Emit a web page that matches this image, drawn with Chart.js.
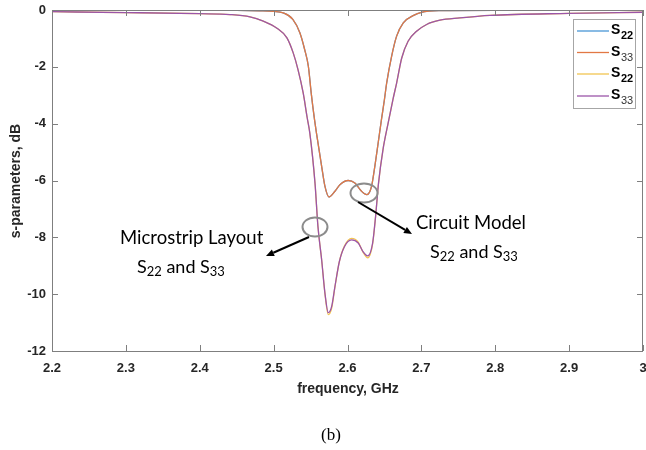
<!DOCTYPE html>
<html><head><meta charset="utf-8">
<script src="https://cdn.jsdelivr.net/npm/chart.js@4/dist/chart.umd.min.js"></script>
<style>html,body{margin:0;padding:0;background:#fff}#wrap{width:646px;height:450px;position:relative}</style>
</head><body><div id="wrap"><canvas id="c" width="646" height="450"></canvas></div>
<script>
// ---- data ----
const xTicks = [2.2, 2.3, 2.4, 2.5, 2.6, 2.7, 2.8, 2.9, 3.0];
const yTicks = [0, -2, -4, -6, -8, -10, -12];

const freqCircuit = [2.2, 2.3, 2.4, 2.45, 2.48, 2.5, 2.513, 2.526, 2.5355, 2.542, 2.547, 2.551, 2.555, 2.558, 2.565, 2.5695, 2.575, 2.583, 2.5897, 2.601, 2.61, 2.619, 2.626, 2.6325, 2.637, 2.6415, 2.646, 2.65, 2.653, 2.6597, 2.6665, 2.6755, 2.6895, 2.7, 2.7237, 2.8, 3.0];
const s22Circuit = [-0.01, -0.01, -0.01, -0.015, -0.03, -0.05, -0.10, -0.33, -0.80, -1.39, -1.98, -2.95, -3.79, -4.33, -5.50, -6.21, -6.58, -6.38, -6.15, -6.00, -6.09, -6.38, -6.50, -6.21, -5.50, -4.68, -3.85, -3.15, -2.57, -1.63, -0.92, -0.45, -0.19, -0.08, -0.02, -0.01, -0.01];
const s33Circuit = [-0.01, -0.01, -0.01, -0.015, -0.03, -0.05, -0.10, -0.33, -0.80, -1.39, -1.98, -2.95, -3.79, -4.33, -5.50, -6.21, -6.58, -6.38, -6.15, -6.00, -6.09, -6.38, -6.50, -6.21, -5.50, -4.68, -3.85, -3.15, -2.57, -1.63, -0.92, -0.45, -0.19, -0.08, -0.02, -0.01, -0.01];

const freqLayout = [2.2, 2.3, 2.4, 2.441, 2.468, 2.486, 2.504, 2.518, 2.5265, 2.533, 2.54, 2.5455, 2.549, 2.556, 2.56, 2.565, 2.5695, 2.574, 2.5785, 2.583, 2.589, 2.596, 2.6055, 2.6145, 2.621, 2.6275, 2.634, 2.638, 2.642, 2.648, 2.655, 2.6615, 2.6665, 2.6734, 2.682, 2.6935, 2.7071, 2.725, 2.752, 2.793, 2.9, 3.0];
const s22Layout = [-0.06, -0.09, -0.13, -0.16, -0.24, -0.39, -0.63, -0.98, -1.51, -2.10, -2.92, -3.80, -4.33, -6.09, -7.62, -8.79, -9.99, -10.72, -10.50, -9.75, -8.85, -8.30, -8.04, -8.17, -8.52, -8.72, -8.24, -7.27, -6.09, -4.92, -3.98, -3.15, -2.57, -1.69, -1.10, -0.75, -0.51, -0.36, -0.28, -0.19, -0.12, -0.08];
const s33Layout = [-0.06, -0.09, -0.13, -0.16, -0.24, -0.39, -0.63, -0.98, -1.51, -2.10, -2.92, -3.80, -4.33, -6.09, -7.62, -8.79, -9.97, -10.65, -10.44, -9.73, -8.85, -8.32, -8.09, -8.20, -8.50, -8.65, -8.20, -7.27, -6.09, -4.92, -3.98, -3.15, -2.57, -1.69, -1.10, -0.75, -0.51, -0.36, -0.28, -0.19, -0.12, -0.08];

const seriesLabels = [['S','22'], ['S','33'], ['S','22'], ['S','33']];
const colors = ['#4a96d6', '#e27844', '#f2c451', '#9b55a9'];

const pts = (fx, fy) => fx.map((f, i) => ({x: f, y: fy[i]}));

const AX = '#7f7f7f', TXT = '#262626';

const framePlugin = {
  id: 'frame',
  afterDatasetsDraw(chart) {
    const {ctx, chartArea: a, scales: {x, y}} = chart;
    ctx.save();
    ctx.strokeStyle = AX; ctx.lineWidth = 1;
    ctx.beginPath();
    ctx.rect(Math.round(a.left) + 0.5, Math.round(a.top) + 0.5, Math.round(a.right - a.left) - 1, Math.round(a.bottom - a.top));
    ctx.stroke();
    ctx.beginPath();
    xTicks.forEach(t => {
      const px = Math.round(x.getPixelForValue(t)) + 0.5;
      ctx.moveTo(px, a.bottom); ctx.lineTo(px, a.bottom - 6);
      ctx.moveTo(px, a.top); ctx.lineTo(px, a.top + 6);
    });
    yTicks.forEach(t => {
      const py = Math.round(y.getPixelForValue(t)) + 0.5;
      ctx.moveTo(a.left, py); ctx.lineTo(a.left + 6, py);
      ctx.moveTo(a.right, py); ctx.lineTo(a.right - 6, py);
    });
    ctx.stroke();
    ctx.restore();
  },
  afterDraw(chart) {
    const {ctx} = chart;
    ctx.save();
    // axis titles
    ctx.fillStyle = TXT;
    ctx.font = 'bold 14px "Liberation Sans", Arial, sans-serif';
    ctx.textAlign = 'center'; ctx.textBaseline = 'middle';
    ctx.fillText('frequency, GHz', 348, 389);
    ctx.save();
    ctx.translate(16, 181); ctx.rotate(-Math.PI / 2);
    ctx.fillText('s-parameters, dB', 0, 0);
    ctx.restore();
    // (b)
    ctx.fillStyle = '#000';
    ctx.font = '17px "Liberation Serif", "Times New Roman", serif';
    ctx.fillText('(b)', 331, 436);

    // legend
    const lx = 573, ly = 19, lw = 62, lh = 89;
    ctx.fillStyle = '#fff'; ctx.fillRect(lx, ly, lw, lh);
    ctx.strokeStyle = '#a6a6a6'; ctx.lineWidth = 1;
    ctx.strokeRect(lx + 0.5, ly + 0.5, lw, lh);
    const rows = [31, 52.5, 74, 96];
    rows.forEach((ry, i) => {
      ctx.strokeStyle = colors[i]; ctx.lineWidth = 1.3;
      ctx.beginPath(); ctx.moveTo(577, ry); ctx.lineTo(609, ry); ctx.stroke();
      ctx.fillStyle = '#000';
      ctx.textAlign = 'left'; ctx.textBaseline = 'alphabetic';
      ctx.font = 'bold 14px "Liberation Sans", Arial, sans-serif';
      ctx.fillText(seriesLabels[i][0], 611, ry + 3);
      ctx.font = (i % 2 === 0 ? 'bold ' : '') + '11px "Liberation Sans", Arial, sans-serif';
      ctx.fillStyle = i % 2 === 0 ? '#000' : '#333';
      ctx.fillText(seriesLabels[i][1], 621, ry + 8);
    });

    // annotations
    ctx.strokeStyle = '#8c8c8c'; ctx.lineWidth = 2;
    ctx.beginPath(); ctx.ellipse(315, 227, 12.5, 9.5, 0, 0, Math.PI * 2); ctx.stroke();
    ctx.beginPath(); ctx.ellipse(364, 193, 13.5, 9.5, 0, 0, Math.PI * 2); ctx.stroke();

    const arrow = (x0, y0, x1, y1) => {
      ctx.strokeStyle = '#000'; ctx.fillStyle = '#000'; ctx.lineWidth = 2;
      const ang = Math.atan2(y1 - y0, x1 - x0);
      const hl = 8, hw = 3.5;
      const bx = x1 - hl * Math.cos(ang), by = y1 - hl * Math.sin(ang);
      ctx.beginPath(); ctx.moveTo(x0, y0); ctx.lineTo(bx, by); ctx.stroke();
      ctx.beginPath();
      ctx.moveTo(x1, y1);
      ctx.lineTo(bx + hw * Math.sin(ang), by - hw * Math.cos(ang));
      ctx.lineTo(bx - hw * Math.sin(ang), by + hw * Math.cos(ang));
      ctx.closePath(); ctx.fill();
    };
    arrow(309, 237, 266, 256);
    arrow(358, 202, 412, 234);

    const F = '"Lato", "Open Sans", sans-serif';
    const sub = (x0, yb, size) => {
      ctx.textAlign = 'left'; ctx.textBaseline = 'alphabetic';
      let cx = x0;
      const parts = [['S', size, 0], ['22', size * 0.72, 3], [' and ', size, 0], ['S', size, 0], ['33', size * 0.72, 3]];
      parts.forEach(([t, s, dy]) => {
        ctx.font = s + 'px ' + F;
        ctx.fillText(t, cx, yb + dy);
        cx += ctx.measureText(t).width;
      });
    };
    ctx.fillStyle = '#000';
    ctx.font = '18.5px ' + F; ctx.textAlign = 'left'; ctx.textBaseline = 'alphabetic';
    ctx.fillText('Microstrip Layout', 120, 244);
    ctx.fillText('Circuit Model', 416, 229);
    sub(137, 273, 18);
    sub(430, 258, 18);
    ctx.restore();
  }
};

const order = [4, 3, 2, 1];
new Chart(document.getElementById('c'), {
  type: 'line',
  data: {
    datasets: [
      {label: 'S22', data: pts(freqCircuit, s22Circuit), borderColor: colors[0]},
      {label: 'S33', data: pts(freqCircuit, s33Circuit), borderColor: colors[1]},
      {label: 'S22', data: pts(freqLayout, s22Layout), borderColor: colors[2]},
      {label: 'S33', data: pts(freqLayout, s33Layout), borderColor: colors[3]}
    ].map((d, i) => Object.assign(d, {order: order[i], borderWidth: 1.3, pointRadius: 0, fill: false, cubicInterpolationMode: 'monotone'}))
  },
  options: {
    responsive: false, devicePixelRatio: 1, animation: false,
    layout: {padding: {top: 10, right: 3, left: 0, bottom: 0}},
    plugins: {legend: {display: false}, tooltip: {enabled: false}},
    scales: {
      x: {
        type: 'linear', min: 2.2, max: 3.0,
        afterBuildTicks: s => { s.ticks = xTicks.map(v => ({value: v})); },
        afterFit: s => { s.height = 99; s.paddingLeft = 0; s.paddingRight = 0; },
        grid: {display: false, drawTicks: false}, border: {display: false},
        ticks: {padding: 10, color: TXT, font: {family: '"Liberation Sans", Arial, sans-serif', size: 13, weight: 'bold'},
          callback: v => String(+(+v).toFixed(1)), maxRotation: 0, autoSkip: false}
      },
      y: {
        type: 'linear', min: -12, max: 0,
        afterBuildTicks: s => { s.ticks = yTicks.map(v => ({value: v})); },
        afterFit: s => { s.width = 52; s.paddingTop = 0; s.paddingBottom = 0; },
        grid: {display: false, drawTicks: false}, border: {display: false},
        ticks: {padding: 6, color: TXT, font: {family: '"Liberation Sans", Arial, sans-serif', size: 13, weight: 'bold'}, autoSkip: false}
      }
    }
  },
  plugins: [framePlugin]
});
</script></body></html>
